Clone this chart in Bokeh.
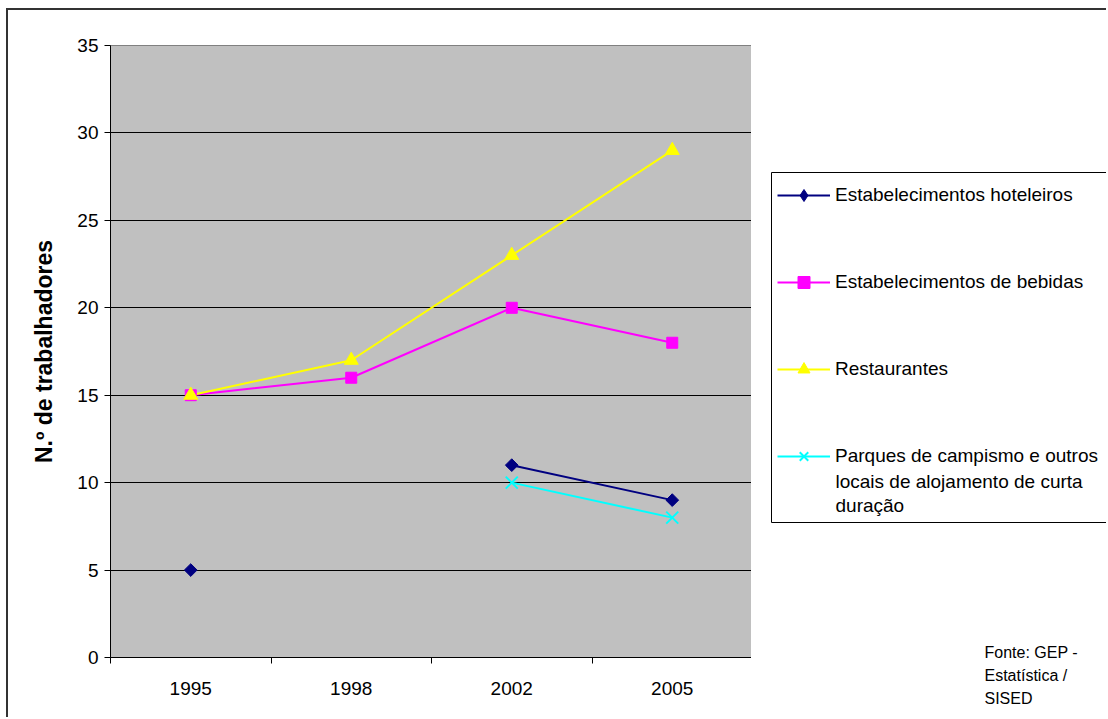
from bokeh.plotting import figure
from bokeh.layouts import row
from bokeh.models import Range1d, FixedTicker, Legend, LegendItem, Label
from bokeh.embed import file_html
from bokeh.resources import INLINE

# --- data -------------------------------------------------------------
years = ["1995", "1998", "2002", "2005"]
nan = float("nan")
hoteleiros = [5, nan, 11, 9]
bebidas = [15, 16, 20, 18]
restaurantes = [15, 17, 23, 29]
parques = [nan, nan, 10, 8]
y_ticks = [0, 5, 10, 15, 20, 25, 30, 35]

names = ["Estabelecimentos hoteleiros", "Estabelecimentos de bebidas",
         "Restaurantes", "Parques de campismo e outros"]
name_cont = ["locais de alojamento de curta", "duração"]
source_lines = ["Fonte: GEP -", "Estatística /", "SISED"]

values = [hoteleiros, bebidas, restaurantes, parques]
colors = ["#000080", "#FF00FF", "#FFFF00", "#00FFFF"]

# category centres on a numeric axis so that ticks can sit between them
x_pos = [i + 0.5 for i in range(len(years))]

FONT = "Liberation Sans"
BORDER = "2px solid #333333"

# ---------------------------------------------------------------- chart
p = figure(width=745, height=709, output_backend="svg", toolbar_location=None,
           x_range=Range1d(0, len(years)), y_range=Range1d(0, 35),
           min_border_left=102, min_border_right=1,
           min_border_top=35, min_border_bottom=62)
p.frame_align = False
p.styles = {"border-left": BORDER, "border-top": BORDER,
            "margin-left": "6px", "margin-top": "8px"}

p.background_fill_color = "#C0C0C0"
p.border_fill_color = "white"
p.outline_line_color = "#808080"
p.outline_line_width = 1

# y axis
p.yaxis.ticker = FixedTicker(ticks=y_ticks)
p.yaxis.axis_label = "N.º de trabalhadores"
p.yaxis.axis_label_text_font = FONT
p.yaxis.axis_label_text_font_style = "bold"
p.yaxis.axis_label_text_font_size = "23px"
p.yaxis.axis_label_text_color = "black"
p.yaxis.axis_label_standoff = 17
p.yaxis.major_label_text_font = FONT
p.yaxis.major_label_text_font_size = "19px"
p.yaxis.major_label_text_color = "black"
p.yaxis.major_label_standoff = 6
p.yaxis.major_tick_out = 6
p.yaxis.major_tick_in = 0
p.yaxis.minor_tick_line_color = None
p.yaxis.axis_line_color = "black"
p.yaxis.major_tick_line_color = "black"

# x axis: labels at category centres, tick marks at the boundaries
p.xaxis.ticker = FixedTicker(ticks=x_pos,
                             minor_ticks=list(range(len(years) + 1)))
p.xaxis.major_label_overrides = {x: y for x, y in zip(x_pos, years)}
p.xaxis.major_label_text_font = FONT
p.xaxis.major_label_text_font_size = "19px"
p.xaxis.major_label_text_color = "black"
p.xaxis.major_label_standoff = 18
p.xaxis.major_tick_out = 0
p.xaxis.major_tick_in = 0
p.xaxis.minor_tick_out = 6
p.xaxis.minor_tick_in = 0
p.xaxis.minor_tick_line_color = "black"
p.xaxis.axis_line_color = "black"

p.xgrid.visible = False
p.ygrid.ticker = FixedTicker(ticks=y_ticks[1:-1])
p.ygrid.grid_line_color = "black"
p.ygrid.grid_line_width = 1

# series lines and markers
for vals, color in zip(values, colors):
    p.line(x_pos, vals, line_color=color, line_width=2)
p.scatter(x_pos, hoteleiros, marker="square", size=9, angle=0.785398,
          fill_color=colors[0], line_color=colors[0])
p.scatter(x_pos, bebidas, marker="square", size=11,
          fill_color=colors[1], line_color=colors[1])
p.scatter(x_pos, restaurantes, marker="triangle", size=14,
          fill_color=colors[2], line_color=colors[2])
p.scatter(x_pos, parques, marker="x", size=17,
          line_color=colors[3], line_width=2)

# ------------------------------------------------- legend and source
# side panel in pixel coordinates (y grows downwards)
side = figure(width=355, height=709, output_backend="svg",
              toolbar_location=None,
              x_range=Range1d(0, 355), y_range=Range1d(709, 0),
              x_axis_type=None, y_axis_type=None,
              min_border=0, outline_line_color=None)
side.frame_align = False
side.styles = {"border-top": BORDER, "margin-top": "8px"}
side.grid.visible = False
side.background_fill_color = "white"
side.border_fill_color = "white"

# legend frame: open on the right, where it runs past the chart border
side.multi_line(xs=[[420, 20, 20, 420]], ys=[[162, 162, 512, 512]],
                line_color="black", line_width=1)

# legend swatches: styled renderers without visible data
markers = ["diamond", "square", "triangle", "x"]
items = []
for name, color, marker in zip(names, colors, markers):
    ln = side.line([nan], [nan], line_color=color, line_width=2)
    if marker == "x":
        sc = side.scatter([nan], [nan], marker=marker, line_color=color,
                          line_width=2)
    else:
        sc = side.scatter([nan], [nan], marker=marker, fill_color=color,
                          line_color=color)
    items.append(LegendItem(label=name, renderers=[ln, sc]))

legend = Legend(items=items, location=(26, 248),
                label_text_font=FONT, label_text_font_size="19px",
                label_text_color="black",
                glyph_width=53, glyph_height=30, label_height=30,
                label_standoff=5, spacing=57, padding=0, margin=0,
                border_line_color=None, background_fill_alpha=0)
side.add_layout(legend, "center")

# continuation of the last legend entry
for i, txt in enumerate(name_cont):
    side.add_layout(Label(x=84, y=471 + 24 * i, text=txt, text_font=FONT,
                          text_font_size="19px", text_color="black",
                          text_baseline="middle"))

# source note
for i, txt in enumerate(source_lines):
    side.add_layout(Label(x=233, y=642 + 23 * i, text=txt, text_font=FONT,
                          text_font_size="16px", text_color="black",
                          text_baseline="middle"))

layout = row(p, side)
open("out.html", "w").write(file_html(layout, INLINE))
